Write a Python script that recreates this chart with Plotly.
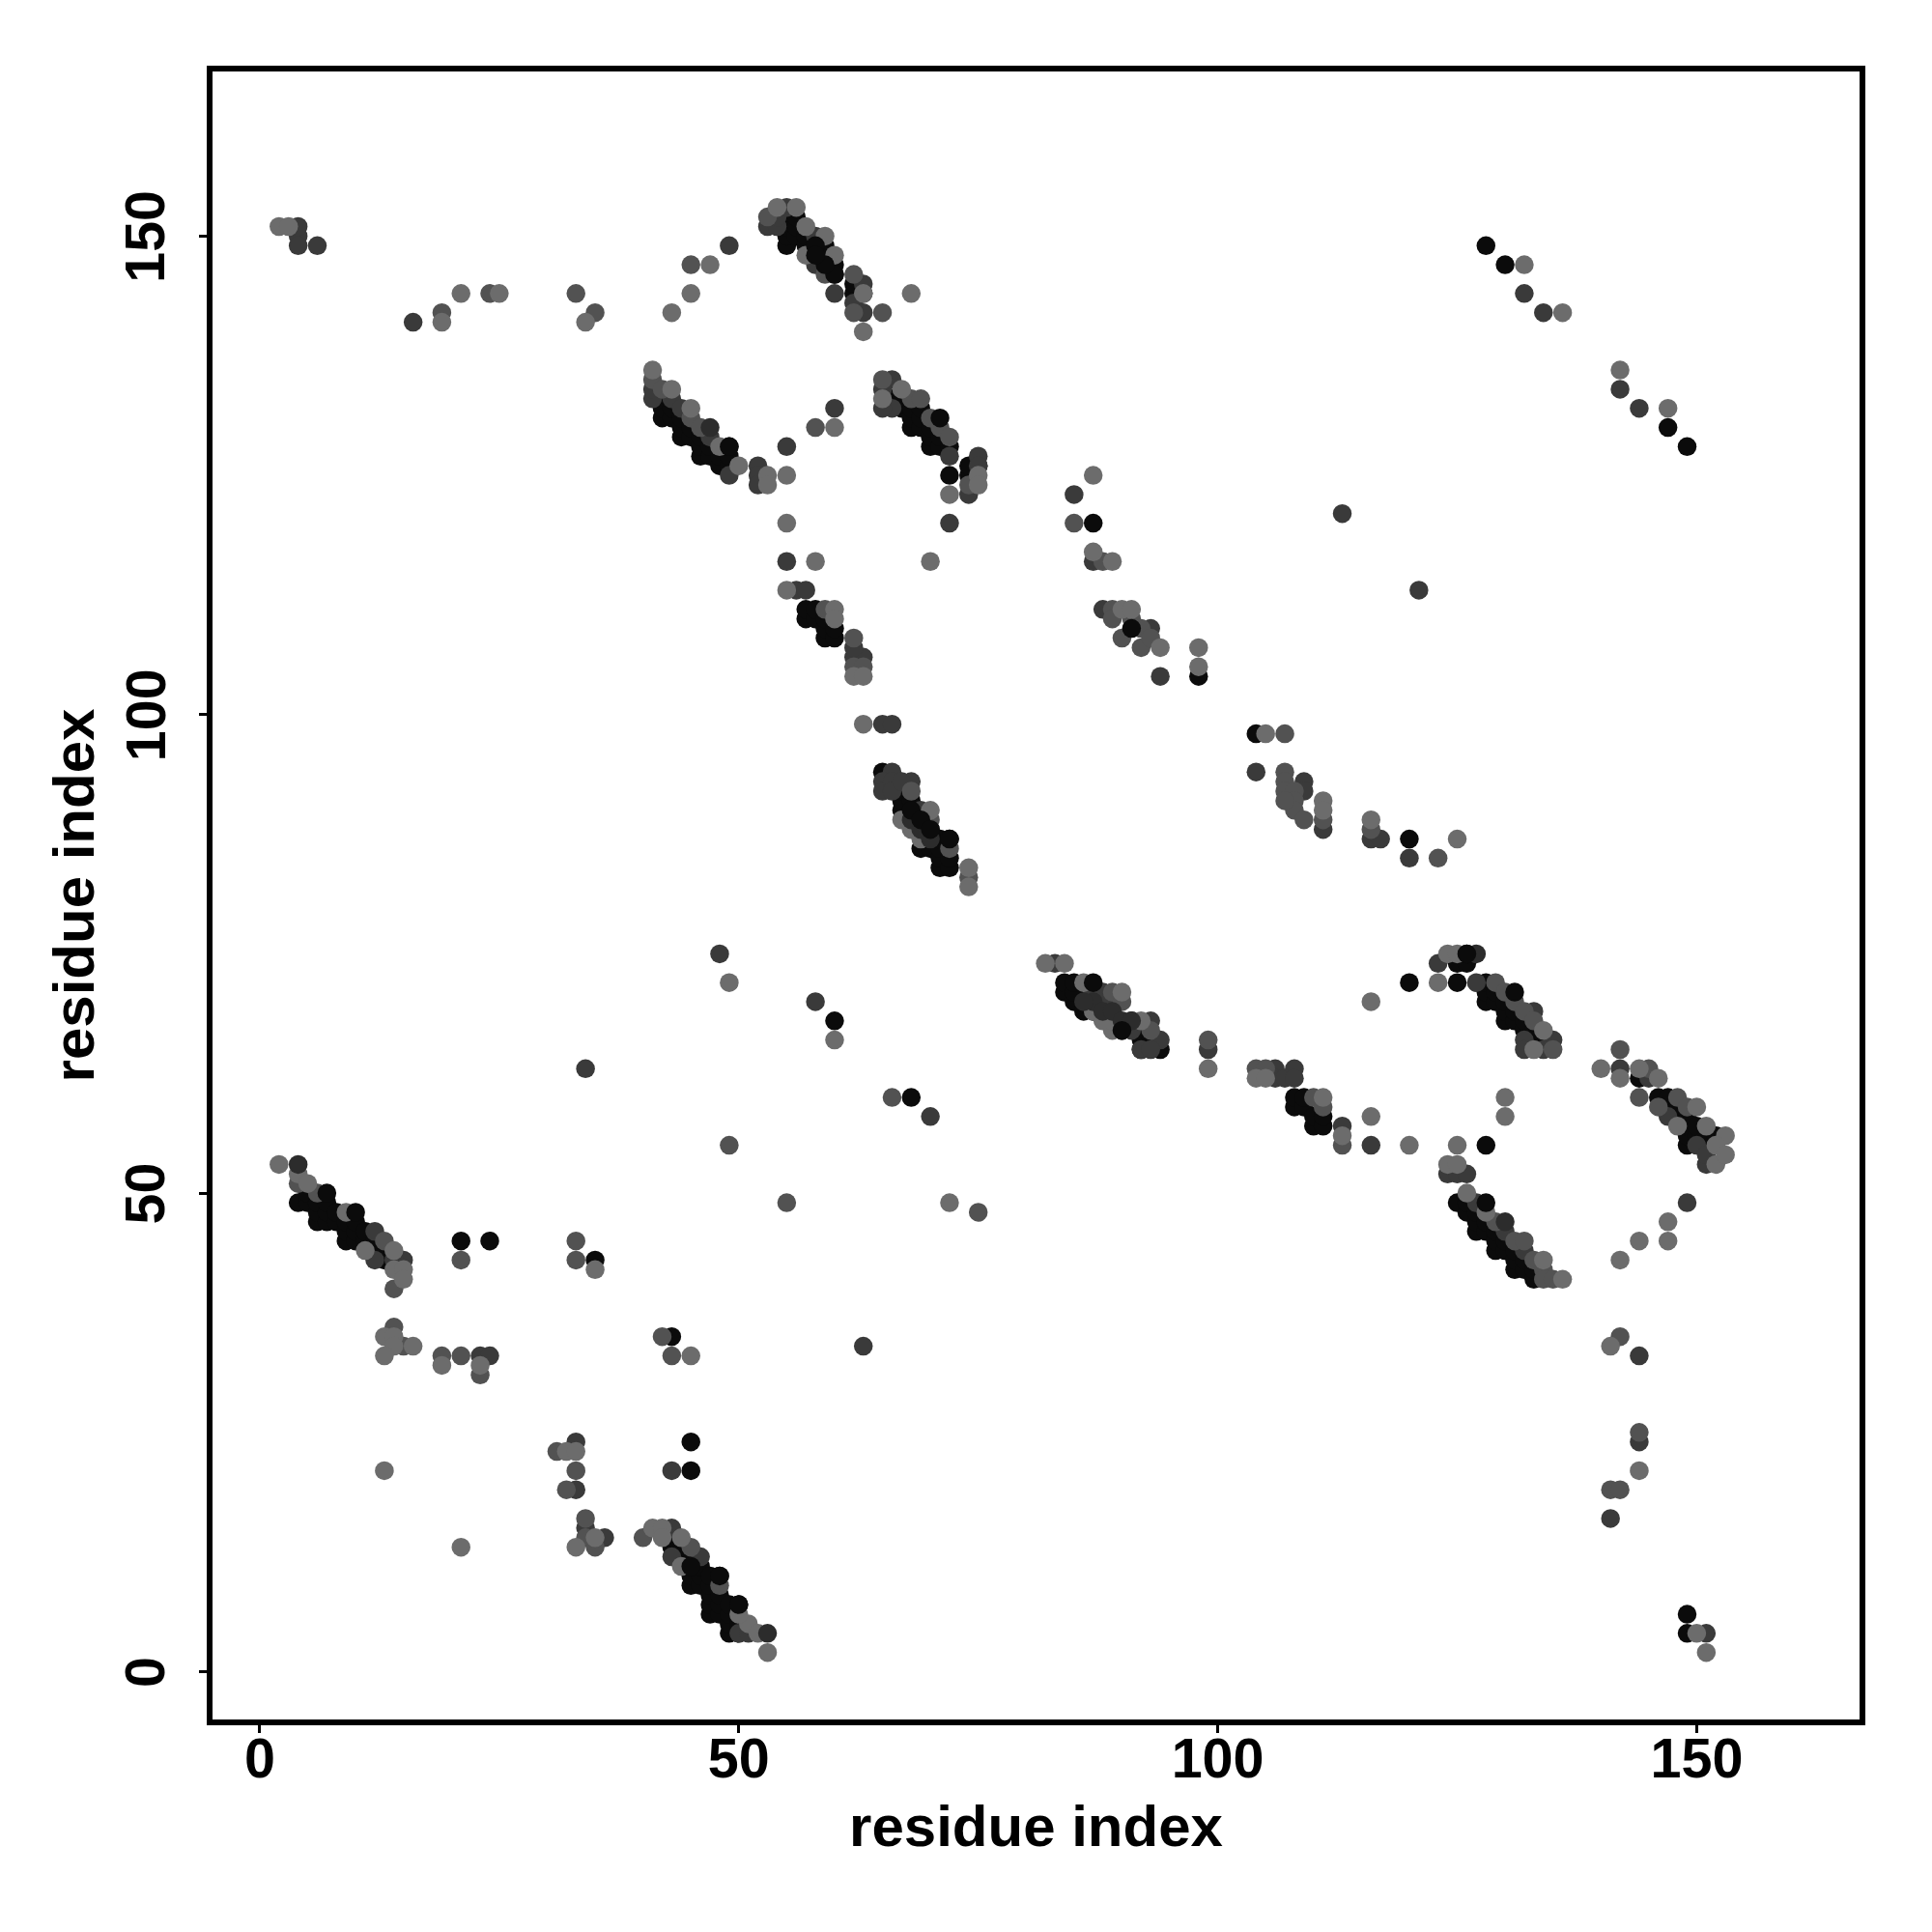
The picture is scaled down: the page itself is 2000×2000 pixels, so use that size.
import plotly.graph_objects as go

# (residue i, residue j) contacts, grouped by the grey level of the dot
near_black = [
    (4,49),(5,49),(5,50),(6,47),(6,48),(6,49),(7,47),(7,48),(7,49),(8,47),(8,48),(9,45),(9,46),(9,47),
    (10,45),(10,46),(10,47),(11,45),(11,46),(12,44),(12,45),(13,43),(13,44),
    (21,45),(24,45),(35,43),(43,35),(45,24),(45,21),
    (43,13),(43,14),(44,12),(44,13),(45,9),(45,10),(45,11),(45,12),(46,9),(46,10),(46,11),(47,6),(47,7),(47,8),(47,9),(47,10),
    (48,6),(48,7),(48,8),(48,10),(49,4),(49,5),(49,6),(49,7),(50,5),(50,7),(50,4),
    (55,149),(55,150),(55,151),(55,152),(56,150),(56,151),(56,152),(57,149),(57,150),(58,148),(58,149),(59,147),(59,148),(59,149),
    (60,146),(60,147),(62,144),(62,145),(63,144),
    (42,131),(42,132),(42,133),(43,131),(43,132),(44,129),(44,130),(44,131),(45,129),(45,130),(46,127),(46,128),(46,129),
    (47,127),(47,128),(48,126),(48,127),(49,126),(49,127),(49,128),
    (66,133),(67,132),(67,133),(68,130),(68,131),(68,132),(69,130),(69,131),(69,132),(70,128),(70,129),(70,130),(71,128),(71,129),
    (72,128),(72,125),(74,125),(74,126),(75,126),
    (57,110),(57,111),(58,110),(58,111),(59,108),(59,109),(59,110),(60,108),(60,109),
    (65,94),(67,90),(67,91),(67,92),(68,89),(68,90),(68,91),(69,86),(69,88),(69,89),(70,86),(70,87),(70,88),
    (71,84),(71,85),(71,86),(71,87),(72,84),(72,85),(72,87),
    (87,120),(98,104),(104,98),(120,87),(128,149),(130,147),(147,130),(149,128),
    (84,71),(84,72),(85,70),(85,71),(85,72),(86,69),(86,70),(87,70),(87,69),(90,67),(91,68),(92,65),(92,66),(92,67),(93,66),(94,65),
    (108,59),(108,60),(109,59),(109,60),(110,57),(110,58),(111,57),(111,58),
    (125,74),(126,74),(126,75),(125,72),(128,70),(128,71),(128,72),(129,70),(129,71),(130,68),(130,69),(130,70),(131,68),(131,69),
    (132,67),(132,68),(133,66),(133,67),(134,66),(120,72),(128,55),
    (125,49),(126,48),(126,49),(127,46),(127,47),(127,48),(128,46),(128,47),(129,44),(129,45),(129,46),(130,44),(130,45),
    (131,42),(131,43),(131,44),(132,42),(132,43),(133,41),(133,42),
    (144,62),(146,60),(147,59),(147,60),(148,58),(148,59),(149,55),(149,56),(149,57),(149,58),(150,56),(150,57),(151,55),(151,56),(152,56),
    (149,6),(149,4),(60,68),(68,60),
]
dark = [
    (4,150),(4,151),(4,149),(6,149),(12,46),(12,43),(15,43),(14,43),
    (23,33),(24,33),(33,24),(33,19),(36,14),(34,15),(43,21),(63,34),(144,33),(144,24),(141,16),(151,4),
    (43,15),(43,12),(46,12),(50,4),(51,4),
    (53,151),(54,151),(54,152),(55,153),(58,150),(58,147),(60,144),(62,143),(63,145),(63,142),(16,141),
    (41,133),(41,134),(43,133),(44,132),(47,129),(49,125),(52,126),(52,125),(52,124),(55,128),(60,132),(55,116),
    (66,135),(65,134),(66,132),(65,132),(72,127),(72,120),(74,123),(75,127),(75,126),
    (56,113),(57,113),(62,106),(63,106),(65,99),(66,99),(62,107),
    (66,94),(65,93),(65,92),(66,93),(66,92),(68,93),(69,90),(67,93),
    (85,123),(87,116),(88,111),(93,109),(94,104),(113,121),(121,113),(104,94),
    (132,144),(134,142),(142,134),(144,132),(48,75),(58,70),(34,63),(70,58),(116,87),(117,87),(120,85),(111,88),
    (109,93),(109,92),(108,63),(106,63),(106,62),(107,62),(108,62),(99,65),(113,57),(116,55),
    (83,74),(87,71),(88,71),(88,70),(89,70),(91,67),(93,68),(94,66),(92,65),(93,65),(89,69),
    (123,74),(127,72),(133,69),(135,66),(132,66),(132,65),(134,65),
    (124,52),(125,52),(126,52),(127,49),(130,46),(132,44),
    (142,63),(145,62),(147,58),(151,53),(150,55),(151,54),(149,49),(49,149),
]
mid = [
    (4,51),(6,50),(21,43),(13,45),(14,40),(14,36),(15,34),(19,33),(21,33),(23,31),(33,45),(33,43),
    (42,35),(43,33),(31,23),(33,21),(32,19),(34,16),(34,14),(35,13),(144,25),(141,19),(142,19),(142,35),
    (40,14),(45,13),(48,9),(19,142),(24,144),(33,144),(45,147),(35,142),
    (53,152),(59,146),(62,146),(62,142),(65,142),
    (41,135),(42,134),(45,131),(46,130),(58,130),
    (65,135),(68,133),(69,133),(70,131),(71,130),(72,129),(74,124),
    (59,111),(62,108),(62,105),(63,105),
    (68,92),(70,89),(72,86),(74,83),
    (85,120),(88,116),(89,111),(89,110),(90,108),(92,109),(92,107),(93,108),(91,110),
    (107,98),(107,94),(107,93),(107,92),(108,92),(108,91),(108,90),(107,91),(109,89),(111,89),
    (116,88),(123,85),(99,66),(104,63),(105,63),(110,60),(111,59),(113,55),(66,60),(49,55),(55,49),(75,48),
    (89,71),(90,70),(93,67),(129,72),(130,71),(131,70),(132,69),(133,68),(135,65),
    (129,47),(131,45),(132,45),(133,43),(134,42),(134,41),(135,41),
    (142,65),(145,63),(144,60),(146,59),(148,60),(149,59),
]
light = [
    (2,53),(2,151),(3,151),(4,52),(5,51),(9,48),(11,44),(14,44),(14,42),(15,42),(15,41),
    (13,35),(14,35),(14,34),(16,34),(13,33),(19,32),(23,32),(45,33),(13,21),(21,13),(32,23),(33,23),(33,13),(35,14),(35,42),
    (141,34),(144,21),(147,47),(147,45),(144,45),(142,43),
    (41,15),(42,15),(42,14),(44,14),(44,11),(51,5),(52,4),(53,2),(50,6),
    (19,141),(21,144),(25,144),(34,141),(43,142),(45,144),(47,147),
    (54,153),(56,153),(57,151),(57,148),(59,150),(60,148),(63,144),(63,140),(68,144),
    (41,136),(43,134),(45,132),(48,128),(50,126),(53,125),(53,124),(55,125),(55,120),(55,113),(58,116),(60,130),
    (65,133),(67,134),(72,123),(75,125),(75,124),(70,116),(87,125),(87,117),(89,116),
    (60,111),(60,110),(62,104),(63,104),(63,99),
    (67,89),(68,88),(69,87),(70,90),(74,84),(74,82),
    (90,111),(91,111),(94,107),(98,107),(98,105),(105,98),
    (132,147),(136,142),(142,136),(147,132),(49,72),(60,66),(72,49),(116,70),
    (111,91),(111,90),(116,89),(125,87),(99,63),(104,62),(105,62),(111,60),(113,56),(116,58),(120,55),(125,55),(130,60),(130,58),
    (82,74),(84,74),(86,72),(87,69),(88,68),(89,67),(89,68),(90,71),(92,68),
    (123,72),(124,75),(125,75),(134,67),(133,65),
    (124,53),(125,53),(126,50),(128,48),(134,43),(136,41),
    (140,63),(142,62),(144,63),(146,62),(148,57),(150,59),(151,57),(153,56),(152,55),(152,53),(153,54),(151,2),(150,4),
]
on_top_dark = [
    (4,53),(53,4),(47,130),(127,75),(68,89),(69,88),(70,87),(87,70),(88,69),(89,69),(90,68),(91,68),(86,70),(130,47),
]
on_top_black = [
    (7,50),(10,48),(48,10),(50,7),(71,131),(87,72),(91,109),(131,71),(128,49),(72,87),(126,75),(60,146),
    (58,149),(59,147),(58,148),(49,128),(45,11),(68,90),(69,89),(70,88),(90,67),
]

x_ticks = [0, 50, 100, 150]
y_ticks = [0, 50, 100, 150]
axis_title = "residue index"

FONT = "Liberation Sans"
layers = [(near_black, "#0b0b0b"), (dark, "#3a3a3a"), (mid, "#525252"), (light, "#6c6c6c"),
          (on_top_dark, "#2c2c2c"), (on_top_black, "#0b0b0b")]

fig = go.Figure()
for pts, colour in layers:
    fig.add_trace(go.Scatter(
        x=[p[0] for p in pts], y=[p[1] for p in pts], mode="markers",
        marker=dict(size=19.5, color=colour, line=dict(width=0)),
        showlegend=False, hoverinfo="skip"))

tick_font = dict(family=FONT, size=57.5, color="black", weight="bold")
axis = dict(
    showgrid=False, zeroline=False, showline=True, mirror=True,
    linecolor="black", linewidth=5.5,
    ticks="outside", ticklen=8, tickwidth=3, tickcolor="black",
    tickmode="array",
)
title_font = dict(family=FONT, size=60, color="black", weight="bold")
fig.update_xaxes(**axis, range=[-4.94, 167.0], tickvals=x_ticks, ticktext=[str(v) for v in x_ticks],
                 tickfont=tick_font, ticklabelstandoff=-23,
                 title=dict(text=axis_title, standoff=20, font=title_font))
fig.update_yaxes(**axis, range=[-5.0, 167.2], tickvals=y_ticks, showticklabels=False,
                 title=dict(text=axis_title, standoff=91, font=title_font))
# y tick labels as rotated text, centred exactly on their tick positions
for v in y_ticks:
    fig.add_annotation(text=str(v), x=-0.0408, xref="paper", y=v, yref="y", textangle=-90,
                       showarrow=False, xanchor="center", yanchor="middle", font=tick_font)
fig.update_layout(width=2000, height=2000, margin=dict(l=220, r=75, t=74, b=220, autoexpand=False),
                  paper_bgcolor="white", plot_bgcolor="white")
fig.write_html("out.html", post_script="document.body.style.margin='0';", config=dict(displayModeBar=False))
